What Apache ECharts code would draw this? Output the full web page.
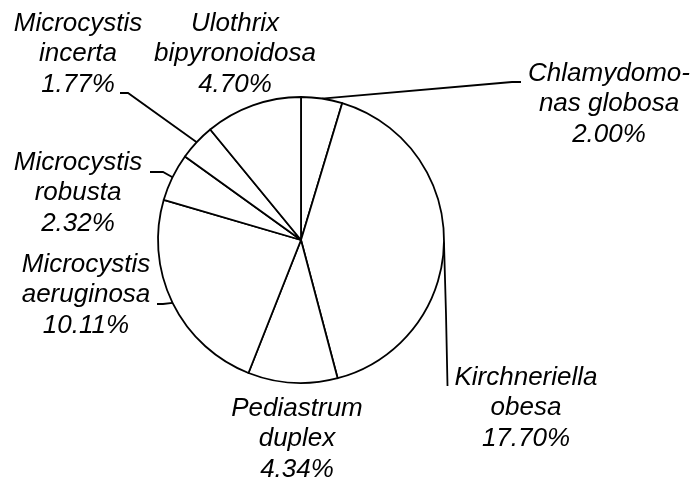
<!DOCTYPE html>
<html>
<head>
<meta charset="utf-8">
<script src="https://cdn.jsdelivr.net/npm/echarts@6/dist/echarts.min.js"></script>
<style>
html,body{margin:0;padding:0;background:#fff;}
#chart{width:696px;height:486px;}
</style>
</head>
<body>
<div id="chart"></div>
<script>
// Data (clockwise from 12 o'clock)
const categories = ['Chlamydomo-\nnas globosa', 'Kirchneriella\nobesa', 'Pediastrum\nduplex', 'Microcystis\naeruginosa', 'Microcystis\nrobusta', 'Microcystis\nincerta', 'Ulothrix\nbipyronoidosa'];
const values = [2.00, 17.70, 4.34, 10.11, 2.32, 1.77, 4.70];

// Label layout (pixel positions of label centers and leader-line bends)
const labelLayoutCfg = [
  { x: 609, y: 104, bend: [[512, 82], [521, 82]] },
  { x: 526, y: 408, bend: [[446, 314], [447.5, 386]] },
  { x: 297, y: 439, bend: null },
  { x: 86,  y: 295, bend: [[163, 304], [157, 304]] },
  { x: 78,  y: 193, bend: [[163, 172], [150, 172]] },
  { x: 78,  y: 54,  bend: [[128, 93], [120, 93]] },
  { x: 235, y: 54,  bend: null }
];

const CX = 301, CY = 240, R = 143;
const total = values.reduce((a, b) => a + b, 0);
function edgePoint(i) {
  let cum = 0;
  for (let k = 0; k < i; k++) cum += values[k];
  const mid = (cum + values[i] / 2) / total * 2 * Math.PI; // clockwise from top
  return [CX + R * Math.sin(mid), CY - R * Math.cos(mid)];
}

const chart = echarts.init(document.getElementById('chart'), null, { renderer: 'canvas' });
chart.setOption({
  animation: false,
  backgroundColor: '#fff',
  series: [{
    type: 'pie',
    center: [CX, CY],
    radius: [0, R],
    startAngle: 90,
    clockwise: true,
    avoidLabelOverlap: false,
    itemStyle: { color: '#fff', borderColor: '#000', borderWidth: 1.8 },
    emphasis: { disabled: true },
    label: {
      show: true,
      position: 'outside',
      fontFamily: 'Liberation Sans, Arial, sans-serif',
      fontStyle: 'italic',
      fontSize: 26,
      lineHeight: 30.5,
      color: '#000',
      align: 'center',
      formatter: p => p.name + '\n' + p.value.toFixed(2) + '%'
    },
    labelLine: { show: true, lineStyle: { color: '#000', width: 1.8 } },
    labelLayout: function (params) {
      const i = params.dataIndex;
      const cfg = labelLayoutCfg[i];
      const out = { x: cfg.x, y: cfg.y, align: 'center', verticalAlign: 'middle' };
      if (cfg.bend) {
        out.labelLinePoints = [edgePoint(i), cfg.bend[0], cfg.bend[1]];
      }
      return out;
    },
    data: categories.map((c, i) => ({
      name: c,
      value: values[i],
      labelLine: { show: labelLayoutCfg[i].bend !== null }
    }))
  }]
});
</script>
</body>
</html>
